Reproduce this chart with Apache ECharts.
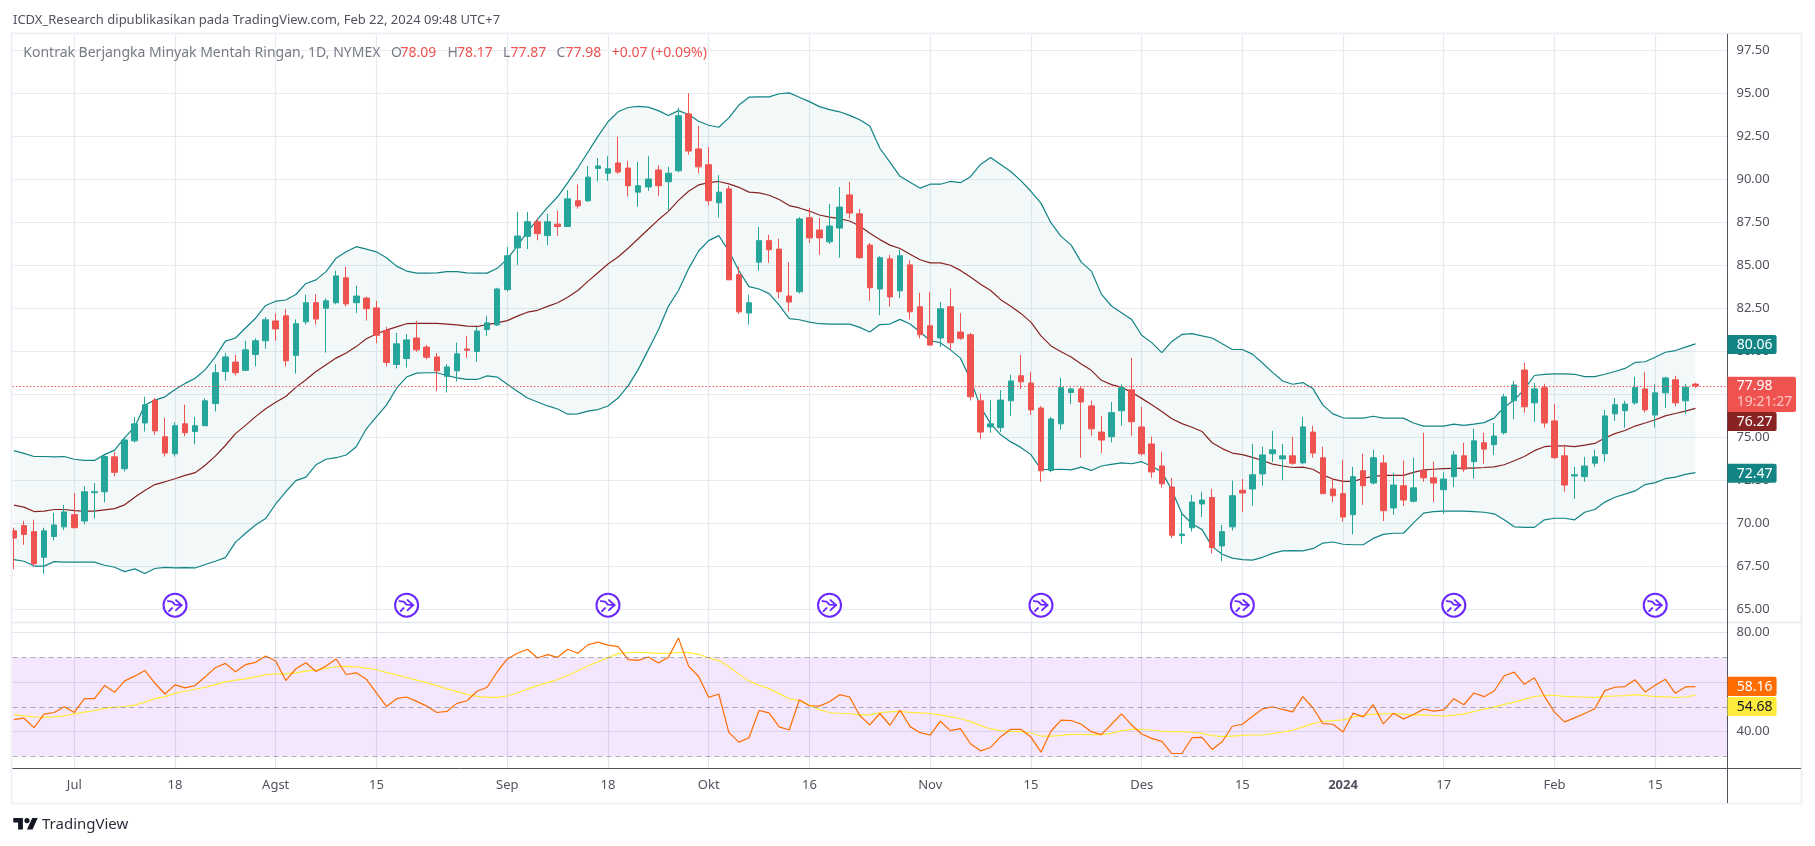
<!DOCTYPE html>
<html><head><meta charset="utf-8">
<style>html,body{margin:0;padding:0;background:#fff}#c{width:1815px;height:846px}</style>
<script src="https://cdn.jsdelivr.net/npm/echarts@6/dist/echarts.min.js"></script>
</head><body><div id="c"></div>
<script>
const dates = [
"2023-06-23","2023-06-26","2023-06-27","2023-06-28","2023-06-29","2023-06-30",
"2023-07-03","2023-07-05","2023-07-06","2023-07-07","2023-07-10","2023-07-11","2023-07-12","2023-07-13","2023-07-14",
"2023-07-17","2023-07-18","2023-07-19","2023-07-20","2023-07-21","2023-07-24","2023-07-25","2023-07-26","2023-07-27","2023-07-28",
"2023-07-31","2023-08-01","2023-08-02","2023-08-03","2023-08-04","2023-08-07","2023-08-08","2023-08-09","2023-08-10","2023-08-11",
"2023-08-14","2023-08-15","2023-08-16","2023-08-17","2023-08-18","2023-08-21","2023-08-22","2023-08-23","2023-08-24","2023-08-25",
"2023-08-28","2023-08-29","2023-08-30","2023-08-31","2023-09-01","2023-09-05","2023-09-06","2023-09-07","2023-09-08",
"2023-09-11","2023-09-12","2023-09-13","2023-09-14","2023-09-15","2023-09-18","2023-09-19","2023-09-20","2023-09-21","2023-09-22",
"2023-09-25","2023-09-26","2023-09-27","2023-09-28","2023-09-29","2023-10-02","2023-10-03","2023-10-04","2023-10-05","2023-10-06",
"2023-10-09","2023-10-10","2023-10-11","2023-10-12","2023-10-13","2023-10-16","2023-10-17","2023-10-18","2023-10-19","2023-10-20",
"2023-10-23","2023-10-24","2023-10-25","2023-10-26","2023-10-27","2023-10-30","2023-10-31","2023-11-01","2023-11-02","2023-11-03",
"2023-11-06","2023-11-07","2023-11-08","2023-11-09","2023-11-10","2023-11-13","2023-11-14","2023-11-15","2023-11-16","2023-11-17",
"2023-11-20","2023-11-21","2023-11-22","2023-11-24","2023-11-27","2023-11-28","2023-11-29","2023-11-30","2023-12-01",
"2023-12-04","2023-12-05","2023-12-06","2023-12-07","2023-12-08","2023-12-11","2023-12-12","2023-12-13","2023-12-14","2023-12-15",
"2023-12-18","2023-12-19","2023-12-20","2023-12-21","2023-12-22","2023-12-26","2023-12-27","2023-12-28","2023-12-29",
"2024-01-02","2024-01-03","2024-01-04","2024-01-05","2024-01-08","2024-01-09","2024-01-10","2024-01-11","2024-01-12",
"2024-01-16","2024-01-17","2024-01-18","2024-01-19","2024-01-22","2024-01-23","2024-01-24","2024-01-25","2024-01-26",
"2024-01-29","2024-01-30","2024-01-31","2024-02-01","2024-02-02","2024-02-05","2024-02-06","2024-02-07","2024-02-08","2024-02-09",
"2024-02-12","2024-02-13","2024-02-14","2024-02-15","2024-02-16","2024-02-20","2024-02-21","2024-02-22"];

// [open, close, low, high]
const candles = [
[69.56,69.14,67.33,69.74],[69.86,69.35,68.75,70.13],[69.51,67.65,67.51,70.2],[68.02,69.56,67.08,69.74],[69.23,69.9,69.0,70.61],[69.79,70.66,69.6,71.07],
[70.5,69.74,69.74,71.76],[70.13,71.83,69.93,72.15],[71.78,71.83,70.27,72.34],[71.83,73.88,71.21,73.95],[73.86,72.96,72.73,74.15],[73.17,74.84,73.0,74.89],
[74.79,75.78,74.7,76.18],[75.83,76.89,75.33,77.35],[77.16,75.37,75.14,77.28],[75.03,74.08,73.88,76.13],[74.04,75.67,73.88,75.87],[75.78,75.26,75.05,76.89],
[75.33,75.67,74.59,76.18],[75.67,77.12,75.67,77.26],[76.96,78.75,76.5,79.25],[78.82,79.67,78.29,79.9],[79.37,78.75,78.59,79.78],[78.89,80.08,78.89,80.61],
[79.81,80.61,79.12,80.75],[80.61,81.83,80.15,81.99],[81.76,81.3,80.61,82.2],[82.06,79.44,79.12,82.45],[79.76,81.6,78.7,81.85],[81.71,82.82,81.55,83.28],
[82.82,81.87,81.55,83.32],[82.5,82.93,79.92,83.07],[82.82,84.38,82.73,84.68],[84.27,82.75,82.61,84.91],[82.82,83.21,82.22,83.81],[83.09,82.47,81.78,83.18],
[82.52,80.93,80.47,82.93],[81.21,79.35,79.12,81.42],[79.23,80.43,79.0,81.07],[79.58,80.66,79.05,81.0],[80.77,80.08,79.97,81.76],[80.24,79.65,79.53,80.36],
[79.67,78.86,77.67,79.9],[78.54,79.09,77.6,79.25],[78.86,79.85,78.24,80.5],[80.13,80.06,79.62,80.89],[79.99,81.18,79.39,81.42],[81.26,81.65,80.89,82.06],
[81.53,83.62,81.46,83.69],[83.58,85.55,83.48,86.06],[86.01,86.7,85.02,88.1],[86.68,87.53,85.94,88.1],[87.53,86.84,86.45,87.73],[86.72,87.53,86.17,87.99],
[87.39,87.25,86.7,88.17],[87.25,88.86,87.25,89.37],[88.75,88.45,88.29,89.69],[88.75,90.12,88.68,90.77],[90.63,90.77,89.87,91.23],[90.35,90.61,89.9,91.34],
[90.95,90.42,90.31,92.47],[90.65,89.62,89.0,91.07],[89.25,89.62,88.4,91.0],[89.55,90.01,89.32,91.34],[90.54,89.62,89.02,90.81],[89.85,90.35,88.19,90.72],
[90.49,93.69,90.42,94.15],[93.8,91.64,91.43,95.0],[91.76,90.72,90.35,93.09],[90.84,88.75,88.47,91.87],[88.63,89.25,87.78,90.24],[89.44,84.15,84.15,89.62],
[84.45,82.29,82.17,84.91],[82.22,82.82,81.55,83.28],[85.18,86.43,84.68,87.23],[86.43,85.9,85.14,86.77],[85.94,83.46,83.09,86.54],[83.21,82.86,82.31,85.18],
[83.46,87.69,83.35,87.8],[87.76,86.59,86.29,88.33],[87.05,86.59,85.6,87.76],[86.36,87.28,86.24,88.56],[87.16,88.38,85.44,89.55],[89.09,88.03,87.71,89.85],
[87.99,85.44,85.37,88.26],[86.17,83.69,82.93,86.29],[83.62,85.44,82.1,85.53],[85.37,83.16,82.59,85.6],[83.51,85.55,83.09,85.9],[85.02,82.29,81.85,85.3],
[82.59,80.96,80.75,83.39],[81.48,80.36,80.31,83.46],[80.77,82.47,80.24,82.86],[82.59,80.5,80.1,83.62],[81.12,80.75,80.66,82.22],[80.96,77.35,77.14,81.07],
[77.12,75.3,74.91,77.53],[75.6,75.78,75.26,77.16],[75.56,77.16,75.3,77.74],[77.12,78.27,76.24,78.63],[78.57,78.22,77.81,79.78],[78.15,76.59,76.29,78.8],
[76.7,73.05,72.41,76.82],[73.07,76.06,72.96,76.18],[75.78,77.88,75.44,78.45],[77.6,77.81,76.93,77.88],[77.81,77.05,73.81,77.97],[76.82,75.49,75.07,77.12],
[75.3,74.84,74.08,76.24],[75.03,76.43,74.7,77.05],[76.54,77.88,75.67,78.08],[77.76,75.9,75.07,79.62],[75.6,74.04,73.95,76.77],[74.61,72.98,72.64,75.03],
[73.33,72.29,72.06,74.15],[72.11,69.3,69.14,72.64],[69.28,69.37,68.8,70.55],[69.74,71.23,69.51,71.65],[71.12,71.35,70.36,71.83],[71.49,68.59,68.25,72.0],
[68.68,69.51,67.79,69.9],[69.79,71.6,69.58,72.48],[71.92,71.76,70.66,72.57],[71.99,72.82,71.03,74.61],[72.87,73.97,72.18,74.45],[74.04,74.27,73.56,75.37],
[73.74,73.92,72.5,74.61],[73.92,73.49,73.4,75.03],[73.51,75.6,73.42,76.18],[75.3,74.08,73.81,75.67],[73.81,71.72,71.72,74.45],[71.99,71.6,71.23,72.64],
[71.72,70.36,70.09,73.69],[70.5,72.71,69.35,73.28],[73.05,72.18,71.07,74.04],[72.34,73.81,72.25,74.27],[73.51,70.73,70.13,73.97],[70.89,72.22,70.5,72.94],
[72.18,71.35,71.0,73.65],[71.28,72.06,71.21,73.81],[73.07,72.64,72.41,75.26],[72.64,72.34,71.23,73.58],[71.95,72.57,70.55,72.96],[72.71,73.97,72.11,74.2],
[73.92,73.14,73.0,74.68],[73.58,74.79,72.59,75.49],[74.68,74.31,73.46,75.26],[74.57,75.07,73.97,75.83],[75.26,77.35,75.16,77.53],[77.12,78.04,76.06,78.27],
[78.91,76.77,76.43,79.32],[77.0,77.81,75.9,78.15],[77.88,75.83,75.56,78.11],[75.95,73.81,73.74,76.93],[73.92,72.22,71.83,74.57],[72.75,72.82,71.42,73.28],
[72.71,73.33,72.41,73.86],[73.49,73.86,73.28,74.27],[74.04,76.24,73.58,76.59],[76.36,76.89,75.95,77.28],[76.54,76.93,75.56,77.12],[77.0,77.88,76.89,78.52],
[77.81,76.59,76.43,78.8],[76.29,77.58,75.56,78.08],[77.58,78.45,76.7,78.52],[78.34,77.0,76.82,78.57],[77.12,77.91,76.36,78.11],[78.09,77.98,77.87,78.17]];

const upperBand = [74.22,74.06,73.88,73.88,73.86,73.88,73.72,73.65,73.65,73.99,74.25,74.98,75.6,76.87,77.16,77.35,77.78,78.13,78.43,78.93,79.67,80.59,80.77,81.35,81.92,82.66,82.91,82.98,83.3,83.94,84.15,84.63,85.41,85.78,86.08,85.94,85.78,85.44,84.95,84.66,84.54,84.54,84.56,84.63,84.63,84.56,84.54,84.54,84.82,85.37,86.13,86.95,87.67,88.36,88.98,89.8,90.65,91.57,92.49,
93.34,93.92,94.17,94.24,94.19,93.99,93.71,93.99,93.76,93.37,93.14,93.02,93.57,94.31,94.77,94.79,94.79,94.97,95.02,94.77,94.51,94.22,94.05,93.92,93.71,93.46,93.09,91.8,91.0,90.17,89.83,89.48,89.71,89.71,89.87,89.8,90.15,90.86,91.27,90.86,90.45,89.92,89.3,88.61,87.46,86.68,86.17,85.18,84.66,83.32,82.63,82.24,81.85,80.93,80.5,79.92,80.57,80.98,81.02,80.89,
80.77,80.43,80.1,80.1,79.83,79.32,78.77,78.27,78.08,78.18,77.83,76.87,76.36,76.13,76.11,76.11,76.22,76.11,76.11,76.11,75.83,75.65,75.65,75.65,75.76,75.69,75.76,75.85,76.11,76.75,77.16,77.78,78.59,78.66,78.68,78.68,78.66,78.52,78.52,78.66,78.82,79.0,79.35,79.39,79.65,79.94,80.04,80.24,80.43];

const lowerBand = [67.88,67.79,67.51,67.51,67.77,67.74,67.74,67.74,67.74,67.56,67.44,67.19,67.35,67.08,67.37,67.44,67.4,67.42,67.4,67.6,67.79,68.0,68.89,69.42,69.9,70.27,71.12,71.83,72.48,72.68,73.4,73.72,73.81,73.97,74.45,75.49,76.18,76.87,77.85,78.5,78.73,78.75,78.75,78.59,78.45,78.36,78.36,78.57,78.5,78.08,77.67,77.28,77.05,76.82,76.64,76.34,76.36,76.52,76.61,
76.82,77.28,77.99,78.93,80.08,81.23,82.61,83.53,84.79,85.83,86.43,86.72,85.83,84.68,83.76,83.62,83.35,82.68,81.9,81.83,81.69,81.6,81.58,81.58,81.58,81.39,81.12,81.55,81.58,81.85,81.58,81.12,80.61,80.5,80.08,79.6,78.36,76.75,75.79,75.14,74.73,74.41,73.99,73.14,73.12,73.14,73.1,73.26,73.07,73.33,73.42,73.51,73.46,73.58,73.3,73.0,71.92,70.55,69.97,69.63,
68.64,68.2,67.97,67.88,67.86,68.02,68.25,68.39,68.41,68.39,68.52,68.85,68.91,68.78,68.75,68.75,69.12,69.35,69.42,69.42,70.02,70.59,70.68,70.71,70.71,70.71,70.68,70.64,70.55,70.2,69.79,69.76,69.76,70.2,70.29,70.29,70.2,70.64,70.8,71.23,71.51,71.69,71.88,72.25,72.36,72.59,72.68,72.84,72.94];

const basisLine = [71.05,70.94,70.68,70.71,70.8,70.8,70.73,70.71,70.71,70.78,70.85,71.07,71.51,71.9,72.25,72.41,72.59,72.78,72.94,73.37,73.9,74.52,75.21,75.69,76.2,76.66,77.03,77.37,77.9,78.34,78.82,79.21,79.6,79.9,80.27,80.73,81.0,81.23,81.42,81.6,81.62,81.62,81.62,81.58,81.53,81.46,81.44,81.55,81.65,81.78,82.04,82.27,82.38,82.61,82.82,83.14,83.53,84.06,84.56,
85.07,85.48,85.99,86.54,87.09,87.64,88.13,88.77,89.3,89.67,89.8,89.87,89.73,89.53,89.25,89.21,89.07,88.82,88.47,88.33,88.15,87.92,87.8,87.71,87.57,87.28,86.86,86.49,86.17,85.97,85.64,85.32,85.14,85.14,85.0,84.7,84.31,83.9,83.53,83.0,82.61,82.2,81.69,80.89,80.31,79.97,79.67,79.26,78.89,78.31,78.06,77.9,77.62,77.26,76.89,76.5,76.08,75.79,75.58,75.33,
74.68,74.34,74.08,73.99,73.83,73.65,73.44,73.33,73.24,73.26,73.14,72.8,72.57,72.43,72.43,72.61,72.73,72.78,72.78,72.78,72.96,73.1,73.14,73.17,73.19,73.21,73.21,73.24,73.28,73.4,73.63,73.88,74.22,74.45,74.5,74.5,74.45,74.54,74.64,74.96,75.21,75.39,75.65,75.83,76.02,76.24,76.38,76.52,76.68];

const rsiLine = [44.83,45.37,41.56,47.01,47.69,50.0,47.69,53.27,53.27,58.57,55.85,60.47,62.38,64.7,59.52,55.17,58.84,57.62,58.57,62.11,65.78,67.55,64.15,67.01,67.96,70.54,68.5,60.61,65.37,67.82,64.28,66.46,69.32,63.06,63.74,61.16,55.58,50.13,53.27,53.95,52.18,50.27,47.69,48.1,51.36,52.45,56.26,57.89,64.15,69.32,71.63,73.26,69.73,71.09,70.0,73.26,71.63,75.03,76.12,74.9,
74.35,69.05,68.78,70.13,67.69,70.0,77.75,66.46,62.24,53.81,55.17,39.66,35.71,37.48,48.5,47.55,41.84,40.61,52.86,50.41,50.27,52.04,54.9,53.95,46.46,42.65,47.28,42.52,48.64,41.97,39.52,38.57,44.15,40.34,41.16,35.03,32.18,33.54,37.89,40.88,40.88,37.75,31.63,40.2,44.56,44.42,42.93,39.93,38.71,42.93,47.14,42.65,38.98,37.21,35.99,31.09,31.09,37.48,37.62,
32.72,35.85,42.11,42.93,46.06,49.18,50.0,48.91,47.96,54.08,49.59,43.2,42.93,39.8,47.41,45.92,50.82,43.06,47.41,45.1,46.87,49.05,48.23,48.77,53.27,50.82,55.58,54.08,56.39,62.52,64.0,59.1,61.7,54.22,47.82,43.88,45.51,47.28,49.18,56.53,57.89,58.16,60.88,55.99,58.71,61.16,55.44,58.03,58.16];

const rsiMa = [46.73,46.33,45.92,45.78,45.92,46.33,47.14,47.82,48.5,49.32,49.73,50.0,50.68,51.9,53.27,54.08,55.44,56.26,57.07,57.89,58.98,60.07,60.75,61.29,62.11,62.92,63.33,63.33,63.74,64.42,64.83,65.65,66.19,66.33,66.19,65.65,64.97,63.88,62.92,61.84,60.75,59.79,58.57,57.21,56.12,55.03,54.22,53.81,53.81,54.35,55.58,57.21,58.57,59.79,61.0,62.65,64.56,66.46,68.23,69.86,
71.49,71.9,72.04,71.9,71.63,71.63,72.04,71.9,71.22,69.73,68.78,66.19,63.2,60.47,58.71,57.35,55.31,53.27,52.45,50.68,48.77,47.69,47.28,47.28,46.73,46.73,47.69,47.96,48.1,47.69,47.55,47.28,46.73,45.92,45.24,44.01,42.38,41.02,40.34,40.07,39.93,39.39,38.16,38.16,38.43,38.84,38.84,38.71,38.71,39.25,40.34,40.88,40.88,40.61,40.07,39.93,39.93,39.66,39.25,
38.3,37.89,38.16,38.43,38.57,38.57,39.12,39.8,40.48,41.84,43.2,44.15,44.42,44.69,45.78,46.46,47.01,47.14,47.28,47.01,46.6,46.73,46.46,46.19,46.6,47.14,48.1,49.05,49.86,50.95,51.9,52.99,54.08,54.62,54.62,54.22,54.08,53.95,53.67,54.22,54.35,54.49,54.9,54.49,54.08,54.08,53.67,53.95,54.68];

const lastClose = 77.98;
const priceTicks = [65,67.5,70,72.5,75,77.5,80,82.5,85,87.5,90,92.5,95,97.5];
const rsiTicks = [40,60,80];
const rsiLevels = [70,50,30];
const timeTicks = [["2023-07-03","Jul"],["2023-07-18","18"],["2023-08-01","Agst"],["2023-08-15","15"],["2023-09-01","Sep"],["2023-09-18","18"],["2023-10-02","Okt"],["2023-10-16","16"],["2023-11-01","Nov"],["2023-11-15","15"],["2023-12-01","Des"],["2023-12-15","15"],["2024-01-02","2024"],["2024-01-17","17"],["2024-02-01","Feb"],["2024-02-15","15"]];
const eventDates = ["2023-07-18","2023-08-18","2023-09-18","2023-10-18","2023-11-16","2023-12-15","2024-01-18","2024-02-15"];
const eventLevel = 65.24;

const FONT = '"Noto Sans", sans-serif';
const GRAY = '#50535e', GREEN = '#26a69a', RED = '#ef5350', TEAL = '#138484', MAROON = '#872323';
const L = 12.5, R = 1727.5;
const xMin = -0.139, xMax = 170.18;
const pairs = a => a.map((v, i) => [i, v]);
const tickIdx = timeTicks.map(t => dates.indexOf(t[0]));
const tickName = {}; timeTicks.forEach((t, k) => tickName[tickIdx[k]] = t[1]);

function txt(x, y, s, fill, size, extra) {
  return Object.assign({type:'text', z:100, silent:true, x, y,
    style:{text:s, fill, font:(size||13)+'px '+FONT, textVerticalAlign:'middle'}}, extra||{});
}
function tag(y0, y1, x1, bg, s, fg) {
  return [
    {type:'rect', z:99, silent:true, shape:{x:R, y:y0, width:x1-R, height:y1-y0, r:[0,2,2,0]}, style:{fill:bg}},
    txt(1736.8, (y0+y1)/2+0.5, s, fg, 14)
  ];
}
function hline(x0,x1,y,c,w){return {type:'line',z:60,silent:true,shape:{x1:x0,y1:y,x2:x1,y2:y},style:{stroke:c,lineWidth:w}};}

const graphics = [
  {type:'rect', z:50, silent:true, shape:{x:11.5,y:33.4,width:1790,height:770.2}, style:{fill:'none',stroke:'#eef0f5',lineWidth:2}},
  hline(L,1801,622.5,'#e3e7ee',1.5),
  hline(L,1801,768.5,GRAY,1),
  {type:'line',z:60,silent:true,shape:{x1:R,y1:34,x2:R,y2:803},style:{stroke:GRAY,lineWidth:1}},
  txt(13,19.8,'ICDX_Research dipublikasikan pada TradingView.com, Feb 22, 2024 09:48 UTC+7','#50535e',13),
  txt(23.3,53.4,'Kontrak Berjangka Minyak Mentah Ringan, 1D, NYMEX','#787b86',14),
  txt(391,53.4,'O','#787b86',14), txt(400.5,53.4,'78.09',RED,14),
  txt(447.5,53.4,'H','#787b86',14), txt(457,53.4,'78.17',RED,14),
  txt(503,53.4,'L','#787b86',14), txt(510.5,53.4,'77.87',RED,14),
  txt(556.4,53.4,'C','#787b86',14), txt(565.5,53.4,'77.98',RED,14),
  txt(611.7,53.4,'+0.07 (+0.09%)',RED,14),
  ...tag(335,354,1776.6,TEAL,'80.06','#fff'),
  ...tag(463.8,482.8,1776.6,TEAL,'72.47','#fff'),
  ...tag(412,431,1776.6,MAROON,'76.27','#fff'),
  {type:'rect', z:99, silent:true, shape:{x:R,y:376.7,width:1796-R,height:35.3,r:[0,2,2,0]}, style:{fill:RED}},
  txt(1736.8,386.5,'77.98','#fff',14),
  txt(1736.8,402.5,'19:21:27','#fbc5c4',14),
  ...tag(676.7,695.9,1776.6,'#ff6d00','58.16','#fff'),
  ...tag(696.9,716,1776.6,'#ffeb3b','54.68','#131722'),
  {type:'polygon', z:100, silent:true, shape:{points:[[22.9,829.6],[18.1,829.6],[18.1,822.5],[13.3,822.5],[13.3,818],[22.9,818]]}, style:{fill:'#131722'}},
  {type:'polygon', z:100, silent:true, shape:{points:[[32.5,829.6],[27,829.6],[32.2,818],[37.7,818]]}, style:{fill:'#131722'}},
  {type:'circle', z:100, silent:true, shape:{cx:27,cy:820.6,r:2.6}, style:{fill:'#131722'}},
  txt(42,824.5,'TradingView','#2a2e39',15)
];

const option = {
  animation:false, backgroundColor:'#fff',
  textStyle:{fontFamily:FONT},
  grid:[
    {left:L, top:34.4, width:R-L, height:588.1, containLabel:false},
    {left:L, top:622.5, width:R-L, height:146.1, containLabel:false}
  ],
  xAxis:[
    {type:'value', gridIndex:0, min:xMin, max:xMax, axisLine:{show:false}, axisTick:{show:false,customValues:tickIdx},
     axisLabel:{show:false,customValues:tickIdx}, splitLine:{show:true,lineStyle:{color:'#e5ebf0',width:1.2}}},
    {type:'value', gridIndex:1, min:xMin, max:xMax, axisLine:{show:false}, axisTick:{show:false,customValues:tickIdx},
     axisLabel:{show:true,customValues:tickIdx,margin:10.5,fontSize:13,color:GRAY,fontFamily:FONT,
       formatter:v=>tickName[v]==='2024'?'{b|2024}':(tickName[v]||''),rich:{b:{fontWeight:'bold',fontSize:13,color:GRAY,fontFamily:FONT}}},
     splitLine:{show:true,lineStyle:{color:'#e1e6ee',width:1.2}}}
  ],
  yAxis:[
    {type:'value', gridIndex:0, position:'right', min:64.23, max:98.42, axisLine:{show:false},
     axisTick:{show:false,customValues:priceTicks},
     axisLabel:{show:true,customValues:priceTicks,margin:9,fontSize:13,color:GRAY,fontFamily:FONT,formatter:v=>v.toFixed(2)},
     splitLine:{show:true,lineStyle:{color:'#e5ebf0',width:1.2}}},
    {type:'value', gridIndex:1, position:'right', min:24.99, max:84.08, axisLine:{show:false},
     axisTick:{show:false,customValues:rsiTicks},
     axisLabel:{show:true,customValues:rsiTicks,margin:9,fontSize:13,color:GRAY,fontFamily:FONT,formatter:v=>v.toFixed(2)},
     splitLine:{show:true,lineStyle:{color:'#e1e6ee',width:1.2}}}
  ],
  series:[
    {type:'custom', name:'BB fill', xAxisIndex:0, yAxisIndex:0, z:1, silent:true, clip:true,
     data:[[0,upperBand[0]]], encode:{x:0,y:1},
     renderItem:(p,api)=>{
       const pts=[];
       upperBand.forEach((v,i)=>pts.push(api.coord([i,v])));
       for(let i=lowerBand.length-1;i>=0;i--) pts.push(api.coord([i,lowerBand[i]]));
       return {type:'polygon',shape:{points:pts},style:{fill:'rgba(19,132,132,0.05)'}};
     }},
    {type:'line', name:'Upper', data:pairs(upperBand), xAxisIndex:0,yAxisIndex:0, z:2, symbol:'none', silent:true, lineStyle:{color:TEAL,width:1.2}},
    {type:'line', name:'Lower', data:pairs(lowerBand), xAxisIndex:0,yAxisIndex:0, z:2, symbol:'none', silent:true, lineStyle:{color:TEAL,width:1.2}},
    {type:'line', name:'Basis', data:pairs(basisLine), xAxisIndex:0,yAxisIndex:0, z:2, symbol:'none', silent:true, lineStyle:{color:MAROON,width:1.2}},
    {type:'candlestick', name:'CL1!', xAxisIndex:0,yAxisIndex:0, z:3, barWidth:6, silent:true,
     data:candles.map((c,i)=>[i,c[0],c[1],c[2],c[3]]),
     itemStyle:{color:GREEN,color0:RED,borderColor:GREEN,borderColor0:RED,borderWidth:1},
     markLine:{silent:true,symbol:'none',animation:false,label:{show:false},
       lineStyle:{color:RED,type:[1.5,2],width:1},data:[{yAxis:lastClose}]}},
    {type:'custom', name:'Events', xAxisIndex:0,yAxisIndex:0, z:4, silent:true,
     data:eventDates.map(d=>[dates.indexOf(d),eventLevel]), encode:{x:0,y:1},
     renderItem:(p,api)=>{
       const c=api.coord([api.value(0),api.value(1)]);
       const s={stroke:'#6a27ff',lineWidth:2,fill:null,lineCap:'round',lineJoin:'round'};
       return {type:'group',x:c[0],y:c[1],children:[
         {type:'circle',shape:{cx:0,cy:0,r:11.5},style:{fill:'#fff',stroke:'#6a27ff',lineWidth:2}},
         {type:'polyline',shape:{points:[[-7,-4],[-3,-3.5],[0,-0.5],[6.5,0]]},style:s},
         {type:'polyline',shape:{points:[[1,-5],[6.5,0],[1,5]]},style:s},
         {type:'line',shape:{x1:-6,y1:6,x2:-3,y2:3},style:s}
       ]};
     }},
    {type:'line', name:'RSI', data:pairs(rsiLine), xAxisIndex:1,yAxisIndex:1, z:4, symbol:'none', silent:true, lineStyle:{color:'#ff6d00',width:1.2},
     markArea:{silent:true,itemStyle:{color:'rgba(156,39,240,0.11)'},data:[[{yAxis:rsiLevels[2]},{yAxis:rsiLevels[0]}]]},
     markLine:{silent:true,symbol:'none',label:{show:false},animation:false,
       lineStyle:{color:'rgba(120,123,134,0.6)',type:[5,4],width:1},data:rsiLevels.map(v=>({yAxis:v}))}},
    {type:'line', name:'RSI MA', data:pairs(rsiMa), xAxisIndex:1,yAxisIndex:1, z:3, symbol:'none', silent:true, lineStyle:{color:'#ffeb3b',width:1.2}}
  ],
  graphic:graphics
};
const chart = echarts.init(document.getElementById('c'),null,{renderer:'canvas',width:1815,height:846});
chart.setOption(option);
</script></body></html>
